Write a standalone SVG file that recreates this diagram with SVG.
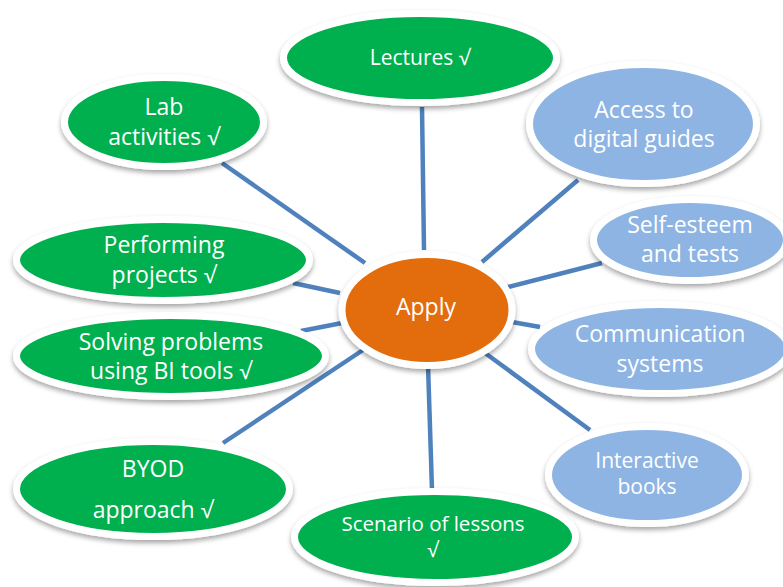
<svg xmlns="http://www.w3.org/2000/svg" width="783" height="587" viewBox="0 0 783 587">
<defs>
<filter id="sh" x="-10%" y="-10%" width="120%" height="130%">
<feDropShadow dx="0" dy="3" stdDeviation="2.5" flood-color="#000" flood-opacity="0.35"/>
</filter>
<style>
.g{fill:#00B050}
.b{fill:#8EB4E3}
.o{fill:#E36C09}
ellipse{stroke:#fff;stroke-width:7;filter:url(#sh)}
text{font-family:"Open Sans","Liberation Sans",sans-serif;font-size:23px;fill:#fff;text-anchor:middle}
.c line{stroke:#4F81BD;stroke-width:4.5}
</style>
</defs>
<rect width="783" height="587" fill="#fff"/>
<g class="c" id="connectors">
<line x1="422" y1="107" x2="424" y2="250"/>
<line x1="578" y1="180" x2="482" y2="262"/>
<line x1="602" y1="263" x2="508" y2="287"/>
<line x1="512" y1="322" x2="540" y2="327"/>
<line x1="485" y1="353" x2="590" y2="430"/>
<line x1="428" y1="365" x2="432" y2="490"/>
<line x1="363" y1="350" x2="223" y2="443"/>
<line x1="301" y1="331" x2="342" y2="323"/>
<line x1="293" y1="283" x2="340" y2="293"/>
<line x1="222" y1="163" x2="365" y2="263"/>
</g>
<g id="lectures"><ellipse class="g" cx="420" cy="58" rx="136.5" ry="44.5"/><text x="420" y="65" style="font-size:21px">Lectures √</text></g>
<g id="lab"><ellipse class="g" cx="164" cy="122" rx="99.5" ry="44.5"/><text x="164" y="115">Lab</text><text x="164" y="145">activities √</text></g>
<g id="performing"><ellipse class="g" cx="163" cy="260" rx="146.5" ry="40.5"/><text x="164" y="253">Performing</text><text x="164" y="283">projects √</text></g>
<g id="solving"><ellipse class="g" cx="171" cy="356" rx="154.5" ry="40.5"/><text x="171" y="350">Solving problems</text><text x="171" y="379">using BI tools √</text></g>
<g id="byod"><ellipse class="g" cx="153" cy="489" rx="136.5" ry="47.5"/><text x="153" y="477">BYOD</text><text x="153" y="518">approach √</text></g>
<g id="scenario"><ellipse class="g" cx="435" cy="537" rx="140.5" ry="45.5"/><text x="433" y="531" style="font-size:20.5px">Scenario of lessons</text><text x="433" y="557" style="font-size:20.5px">√</text></g>
<g id="access"><ellipse class="b" cx="643" cy="124" rx="113.5" ry="59.5"/><text x="644" y="118">Access to</text><text x="644" y="147">digital guides</text></g>
<g id="selfesteem"><ellipse class="b" cx="690" cy="240" rx="96.5" ry="40.5"/><text x="690" y="233">Self-esteem</text><text x="690" y="262">and tests</text></g>
<g id="communication"><ellipse class="b" cx="660" cy="349" rx="128.5" ry="44.5"/><text x="660" y="342">Communication</text><text x="660" y="372">systems</text></g>
<g id="interactive"><ellipse class="b" cx="647" cy="475" rx="98.5" ry="48.5"/><text x="647" y="468" style="font-size:21px">Interactive</text><text x="647" y="494" style="font-size:21px">books</text></g>
<g id="apply"><ellipse class="o" cx="427" cy="310" rx="85" ry="55.5"/><text x="426" y="315">Apply</text></g>
</svg>
